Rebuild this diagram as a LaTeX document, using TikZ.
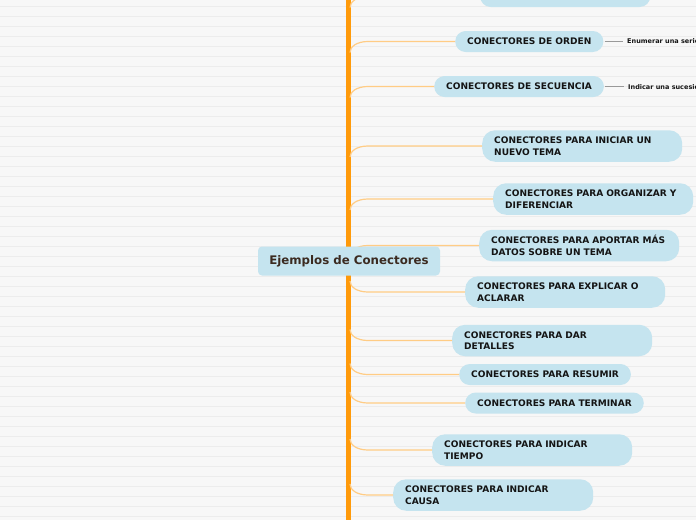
\documentclass[tikz,border=0pt]{standalone}
\usepackage{fontspec}
\setmainfont{DejaVu Sans}
\definecolor{paper}{HTML}{F7F7F7}
\definecolor{rule}{HTML}{ECECEC}
\definecolor{trunkorange}{HTML}{FF9A0A}
\definecolor{branchorange}{HTML}{FFCC85}
\definecolor{topicblue}{HTML}{C5E4EF}
\definecolor{roottext}{HTML}{3B2A20}
\definecolor{topictext}{HTML}{141414}
\begin{document}
\begin{tikzpicture}[x=1pt,y=1pt,
  ruled/.style={draw=rule,line width=0.9pt},
  trunk/.style={draw=trunkorange,line width=4.6pt},
  branch/.style={draw=branchorange,line width=1.2pt},
  root/.style={fill=topicblue,rounded corners=4pt,minimum width=182pt,minimum height=29pt,
    inner sep=0pt,text=roottext,font=\bfseries\fontsize{11.8}{14}\selectfont},
  topic/.style={fill=topicblue,rounded corners=10.5pt,anchor=west,inner xsep=12pt,inner ysep=0pt,
    minimum height=21pt,text=topictext,font=\bfseries\fontsize{9.05}{11.5}\selectfont},
  longtopic/.style={topic,text width=176pt,align=left,minimum height=31.5pt,rounded corners=13pt},
  note/.style={anchor=west,inner sep=0pt,text=topictext,font=\bfseries\fontsize{6.5}{8}\selectfont},
  noteline/.style={draw=gray!80,line width=0.9pt}]
  \clip (0,0) rectangle (696,-520);
  \fill[paper] (0,0) rectangle (696,-520);
  \foreach \y in {6,16,...,516}
    \draw[ruled] (0,-\y) -- (696,-\y);

  \coordinate (trunktop) at (348.5,0);
  \coordinate (trunkbot) at (348.5,-520);
  \coordinate (trunkedge) at (350,0);
  \coordinate (bend) at (368,0);
  \draw[trunk] (trunktop) -- (trunkbot);

  \node[topic,minimum width=170pt] (first) at (480,3.5) {};
  \node[topic] (orden) at (455,-41.5) {CONECTORES DE ORDEN};
  \node[topic] (secuencia) at (434,-86.5) {CONECTORES DE SECUENCIA};
  \node[longtopic] (iniciar) at (482,-146) {CONECTORES PARA INICIAR UN\\NUEVO TEMA};
  \node[longtopic] (organizar) at (493,-199) {CONECTORES PARA ORGANIZAR Y\\DIFERENCIAR};
  \node[longtopic] (aportar) at (479,-245.5) {CONECTORES PARA APORTAR MÁS\\DATOS SOBRE UN TEMA};
  \node[longtopic] (explicar) at (465,-292) {CONECTORES PARA EXPLICAR O\\ACLARAR};
  \node[longtopic] (detalles) at (452,-340.5) {CONECTORES PARA DAR\\DETALLES};
  \node[topic] (resumir) at (459,-374.5) {CONECTORES PARA RESUMIR};
  \node[topic] (terminar) at (465,-403) {CONECTORES PARA TERMINAR};
  \node[longtopic] (tiempo) at (432,-450) {CONECTORES PARA INDICAR\\TIEMPO};
  \node[longtopic] (causa) at (393,-495) {CONECTORES PARA INDICAR\\CAUSA};

  \foreach \n in {first,orden,secuencia,iniciar,organizar,aportar}
    \draw[branch] (\n.west) -- (\n.west -| bend)
      .. controls +(-11,0) and +(0,6) .. ([yshift=-11pt]\n.west -| trunkedge);
  \foreach \n in {explicar,detalles,resumir,terminar,tiempo,causa}
    \draw[branch] (\n.west) -- (\n.west -| bend)
      .. controls +(-11,0) and +(0,-6) .. ([yshift=11pt]\n.west -| trunkedge);

  \node[note] (orden-note) at (627,-41.5) {Enumerar una serie};
  \node[note] (secuencia-note) at (628,-86.5) {Indicar una sucesión};
  \draw[noteline] (orden.east) ++(1,0) -- ([xshift=-4pt]orden-note.west);
  \draw[noteline] (secuencia.east) ++(1,0) -- ([xshift=-4pt]secuencia-note.west);

  \node[root] (root) at (349,-261) {Ejemplos de Conectores};
\end{tikzpicture}
\end{document}
